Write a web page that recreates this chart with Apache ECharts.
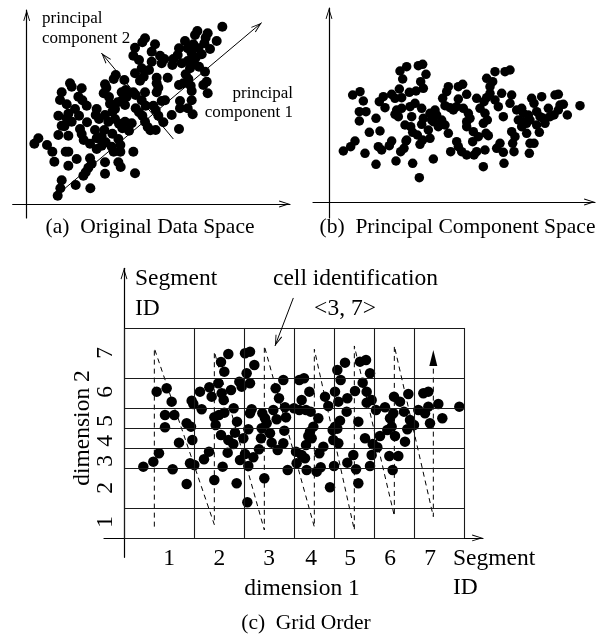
<!DOCTYPE html>
<html><head><meta charset="utf-8">
<script src="https://cdn.jsdelivr.net/npm/echarts@6/dist/echarts.min.js"></script>
<style>html,body{margin:0;padding:0;background:#fff}#c{width:605px;height:644px}</style>
</head><body><div id="c"></div>
<script>
// ---- data (arbitrary units, origin at the axis crossing) ----
const pointsA = [[587,532],[512,519],[505,507],[543,512],[537,499],[570,489],[533,482],[475,489],[500,479],[515,467],[550,465],[457,467],[483,467],[495,452],[525,449],[507,439],[355,497],[347,485],[385,479],[325,469],[375,457],[400,445],[413,435],[320,445],[337,432],[440,435],[453,447],[437,417],[465,422],[483,429],[500,419],[490,407],[517,412],[405,422],[375,427],[345,407],[367,402],[351,382],[340,370],[325,392],[267,387],[261,375],[293,372],[390,379],[423,379],[477,389],[485,375],[535,397],[457,357],[470,362],[492,355],[495,339],[530,357],[540,367],[543,332],[390,362],[395,349],[390,335],[355,335],[320,335],[327,327],[297,342],[285,335],[300,322],[235,359],[239,349],[231,332],[247,321],[130,362],[135,352],[165,347],[105,335],[100,312],[120,299],[155,322],[167,311],[145,285],[180,295],[250,301],[273,305],[265,285],[295,297],[287,312],[345,311],[357,295],[405,309],[415,311],[460,309],[495,311],[483,287],[460,287],[380,295],[387,282],[327,287],[337,275],[347,265],[257,277],[235,267],[245,247],[207,267],[217,255],[210,285],[125,271],[120,257],[135,247],[95,265],[105,235],[157,265],[160,225],[165,210],[171,192],[181,245],[265,255],[277,241],[295,247],[287,227],[307,220],[315,242],[355,247],[363,231],[371,221],[395,265],[410,245],[435,267],[457,225],[387,222],[205,222],[233,222],[190,181],[210,197],[225,202],[257,211],[275,195],[281,177],[261,157],[281,157],[255,172],[237,185],[225,175],[210,165],[95,207],[125,205],[113,233],[35,197],[23,181],[61,177],[77,157],[83,127],[117,157],[125,157],[150,135],[125,115],[190,137],[195,121],[177,95],[170,85],[185,109],[235,125],[275,125],[282,111],[235,91],[320,157],[325,92],[105,71],[101,47],[93,25],[147,57],[191,47],[498,269]];
const pointsB = [[43,153],[65,166],[78,183],[108,146],[141,113],[71,321],[93,331],[103,303],[91,271],[111,271],[91,243],[121,209],[153,213],[141,251],[151,301],[163,316],[168,283],[148,166],[158,156],[181,169],[188,183],[201,123],[215,151],[225,161],[231,183],[251,116],[271,73],[273,173],[281,186],[188,323],[198,311],[211,339],[218,313],[213,393],[233,406],[221,369],[268,409],[281,413],[291,383],[241,329],[261,333],[275,361],[283,341],[203,276],[218,281],[208,256],[198,263],[243,286],[258,296],[278,281],[248,256],[228,231],[245,226],[251,209],[265,201],[233,186],[278,233],[283,251],[303,266],[308,246],[298,216],[303,191],[318,276],[323,261],[313,241],[328,226],[313,129],[341,311],[353,331],[358,346],[363,283],[348,289],[338,246],[348,231],[358,206],[373,276],[383,286],[388,346],[401,353],[388,309],[413,323],[403,281],[418,266],[413,241],[423,251],[413,226],[383,181],[388,166],[398,151],[413,141],[365,151],[433,211],[448,196],[443,151],[435,141],[431,181],[443,311],[465,301],[473,313],[483,326],[453,281],[468,266],[475,246],[463,236],[471,206],[478,199],[468,156],[463,106],[473,371],[491,361],[498,391],[483,346],[498,306],[508,286],[518,326],[523,256],[543,296],[548,321],[528,391],[543,396],[503,161],[523,149],[513,176],[525,116],[548,211],[558,196],[551,176],[555,151],[563,276],[578,281],[568,246],[583,241],[578,226],[593,236],[598,261],[608,311],[615,296],[593,206],[603,176],[615,176],[601,146],[623,271],[633,256],[623,231],[631,209],[638,316],[658,281],[663,256],[675,261],[678,321],[688,323],[693,291],[703,293],[643,251],[715,261],[753,289],[603,246],[648,236],[688,276],[583,266]];
const pointsC = [[58,214],[88,229],[105,254],[98,439],[128,449],[143,409],[123,369],[151,369],[123,332],[165,286],[146,206],[188,344],[201,334],[205,294],[188,162],[198,224],[211,219],[203,412],[208,402],[233,386],[228,439],[256,452],[263,424],[283,464],[293,434],[299,414],[291,528],[301,499],[313,552],[321,444],[271,362],[285,369],[301,376],[275,339],[329,389],[291,309],[313,294],[328,282],[339,349],[333,316],[358,299],[373,326],[240,236],[255,259],[311,256],[296,214],[271,174],[338,164],[348,234],[363,252],[373,216],[388,242],[405,266],[363,554],[378,559],[391,519],[368,494],[346,469],[353,454],[378,464],[383,386],[378,374],[415,374],[423,359],[413,329],[428,344],[411,299],[438,314],[448,384],[458,356],[455,449],[465,419],[478,474],[483,392],[486,362],[481,322],[443,286],[461,264],[478,284],[491,204],[421,179],[370,107],
 [526,474],[540,479],[556,439],[533,414],[510,389],[526,384],[546,384],[560,379],[583,359],[568,334],[558,319],[553,306],[563,299],[546,279],[516,259],[533,249],[543,239],[518,224],[548,204],[586,254],[578,199],[590,212],[598,274],[603,424],[613,396],[633,439],[640,504],[650,474],[663,526],[643,409],[670,419],[668,379],[648,352],[633,334],[626,324],[640,328],[628,294],[643,284],[630,216],[618,152],[670,226],[688,249],[696,206],[703,164],[703,349],[693,441],[716,466],[708,529],[726,534],[738,494],[728,439],[743,414],[728,406],[723,299],[746,282],[760,272],[743,249],[738,216],[756,384],[783,392],[768,306],[790,324],[798,359],[803,334],[813,306],[808,374],[796,246],[823,246],[806,204],[810,424],[828,409],[840,379],[853,432],[858,354],[870,339],[850,326],[843,289],[883,384],[903,374],[898,434],[913,439],[913,394],[943,402],[918,344],[955,359],[1006,394]];
const pc1 = [[91,27],[705,544]];
const pc2 = [[440,195],[224,453]];
const segX = [0,210,360,510,630,750,870,1020];
const segY = [0,90,210,270,330,390,480,630];
const zigzag = [[91,34],[91,569],[271,40],[271,559],[421,24],[421,576],[571,33],[571,566],[691,24],[691,576],[811,66],[811,576],[928,64],[928,520]];
const zigzagTip = [928,564];
const cellArrow = [[508,720],[453,576]];
const xTickValues = [135,286,435,561,678,798,918];
const yTickValues = [48,150,231,291,351,438,555];
const tickLabels = ['1','2','3','4','5','6','7'];

// ---- rendering ----
const serif = 'Liberation Serif';
const openArrow = 'path://M0,11 L3.5,0 L7,11 L6.1,11.3 L3.5,2.9 L0.9,11.3 Z';
const solidArrow = 'path://M5,0 L10,16 L0,16 Z';

function axis(grid, min, max) {
  return {
    type: 'value', gridIndex: grid, min: min, max: max,
    axisLine: { show: true, onZero: true, symbol: ['none', openArrow], symbolSize: [7, 11], symbolOffset: [0, -5.5],
      lineStyle: { color: '#000', width: 1.2 } },
    axisTick: { show: false }, axisLabel: { show: false }, splitLine: { show: false }
  };
}
const lineMark = (pairs, opts) => Object.assign({
  silent: true, animation: false, label: { show: false }, emphasis: { disabled: true },
  symbol: ['none', 'none'],
  lineStyle: { color: '#000', width: 1, type: 'solid' },
  data: pairs.map(p => [{ coord: p[0] }, { coord: p[1] }])
}, opts || {});

const gridPairs = [];
segX.forEach(x => gridPairs.push([[x, segY[0]], [x, segY[segY.length - 1]]]));
segY.forEach(y => gridPairs.push([[segX[0], y], [segX[segX.length - 1], y]]));

function label(x, y, text, size, align, rotation) {
  return { type: 'text', x: x, y: y, rotation: rotation || 0, silent: true,
    style: { text: text, fontSize: size, fontFamily: serif, fill: '#000', align: align, verticalAlign: 'middle' } };
}
const dot = { color: '#000', opacity: 1 };

const option = {
  animation: false,
  backgroundColor: '#fff',
  textStyle: { fontFamily: serif },
  grid: [
    { left: 12.7, top: 10, width: 277.3, height: 208, outerBoundsMode: 'none' },
    { left: 313, top: 8, width: 282, height: 210, outerBoundsMode: 'none' },
    { left: 104, top: 268.3, width: 379, height: 289, outerBoundsMode: 'none' }
  ],
  xAxis: [axis(0, -42, 790), axis(1, -48, 798), axis(2, -60, 1077)],
  yAxis: [axis(0, -42, 582), axis(1, -48, 582), axis(2, -58, 809)],
  series: [
    { type: 'scatter', xAxisIndex: 0, yAxisIndex: 0, data: pointsA, symbolSize: 10, silent: true,
      itemStyle: dot, z: 3,
      markLine: lineMark([pc1, pc2], { symbol: ['none', openArrow], symbolSize: [7, 11], symbolOffset: [0, [0, 5.5]] }) },
    { type: 'scatter', xAxisIndex: 1, yAxisIndex: 1, data: pointsB, symbolSize: 9.5, silent: true,
      itemStyle: dot, z: 3 },
    { type: 'line', xAxisIndex: 2, yAxisIndex: 2, data: [], silent: true, z: 1, clip: false,
      markLine: lineMark(gridPairs, { lineStyle: { color: '#1a1a1a', width: 1.1, type: 'solid' } }) },
    { type: 'line', xAxisIndex: 2, yAxisIndex: 2, data: zigzag, silent: true, z: 2, clip: false,
      symbol: 'none', showSymbol: false, lineStyle: { color: '#000', width: 1, type: [5, 4] },
      markPoint: { silent: true, animation: false, label: { show: false }, symbol: solidArrow, symbolSize: [8, 16],
        symbolOffset: [0, '50%'], itemStyle: { color: '#000' }, data: [{ coord: zigzagTip }] },
      markLine: lineMark([cellArrow], { symbol: ['none', openArrow], symbolSize: [7, 11], symbolOffset: [0, [0, 5.5]] }) },
    { type: 'scatter', xAxisIndex: 2, yAxisIndex: 2, data: pointsC, symbolSize: 10.5, silent: true,
      itemStyle: dot, z: 3 }
  ]
};
const chart = echarts.init(document.getElementById('c'), null, { renderer: 'canvas' });
chart.setOption(option);

// tick labels of panel (c), placed through the axes' own scale
const tickTexts = [];
xTickValues.forEach((v, i) => {
  const p = chart.convertToPixel({ gridIndex: 2 }, [v, 0]);
  tickTexts.push(label(p[0], p[1] + 21, tickLabels[i], 23.5, 'center'));
});
yTickValues.forEach((v, i) => {
  const p = chart.convertToPixel({ gridIndex: 2 }, [0, v]);
  tickTexts.push(label(p[0] - 18, p[1], tickLabels[i], 23.5, 'center', Math.PI / 2));
});

chart.setOption({
  graphic: [
    label(42, 19, 'principal', 17, 'left'),
    label(42, 39, 'component 2', 17, 'left'),
    label(293, 94, 'principal', 17, 'right'),
    label(293, 113, 'component 1', 17, 'right'),
    label(150, 227.5, '(a)  Original Data Space', 21.5, 'center'),
    label(457.5, 227.5, '(b)  Principal Component Space', 21.5, 'center'),
    label(135, 279, 'Segment', 23.5, 'left'),
    label(135, 309, 'ID', 23.5, 'left'),
    label(273, 279, 'cell identification', 23.5, 'left'),
    label(345, 309, '<3, 7>', 23.5, 'center'),
    label(83, 428, 'dimension 2', 23.5, 'center', Math.PI / 2),
    label(453, 559, 'Segment', 23.5, 'left'),
    label(453, 588, 'ID', 23.5, 'left'),
    label(302, 589, 'dimension 1', 23.5, 'center'),
    label(306, 623, '(c)  Grid Order', 21.5, 'center')
  ].concat(tickTexts)
});
</script></body></html>
